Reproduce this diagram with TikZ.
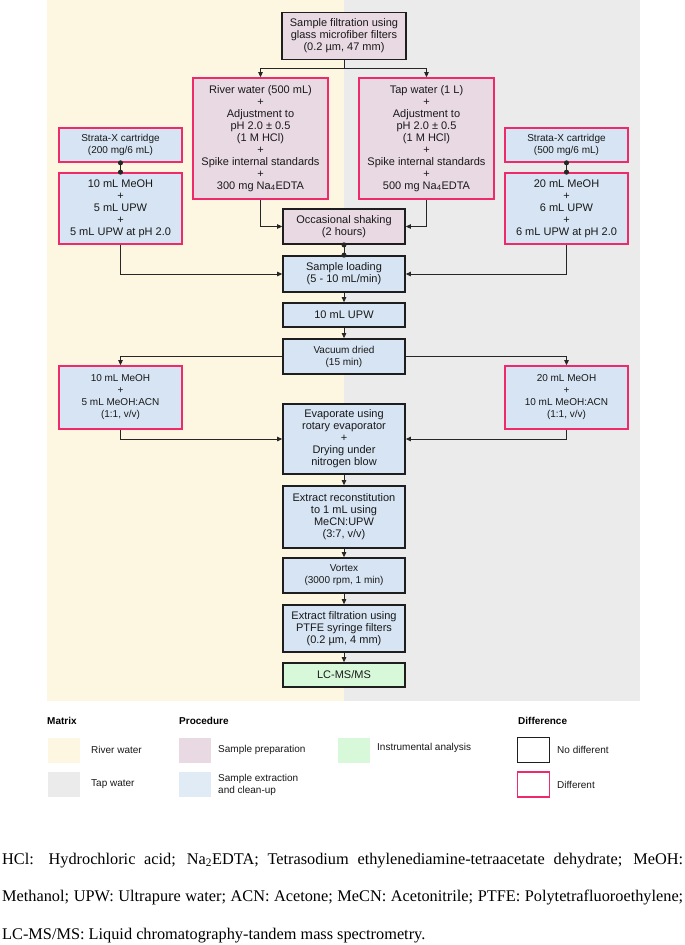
\documentclass[tikz,border=0pt]{standalone}
\usepackage{fontspec}
\setmainfont{Liberation Sans}
\newfontfamily\notefont{Liberation Serif}
\usetikzlibrary{arrows.meta}
\definecolor{bgY}{HTML}{FDF6E1}
\definecolor{bgG}{HTML}{EBEBEB}
\definecolor{prepC}{HTML}{E9D9E3}
\definecolor{extC}{HTML}{D6E4F3}
\definecolor{instC}{HTML}{D7F9D9}
\definecolor{pinkB}{HTML}{EE2A6B}
\definecolor{darkB}{HTML}{1E1E1E}
\definecolor{lineC}{HTML}{262626}
\tikzset{
  mainfont/.style={font=\fontsize{11}{12}\selectfont},
  smallfont/.style={font=\fontsize{10}{12}\selectfont},
  boxbase/.style={align=center, inner sep=0pt, line width=1.7pt, text=black!90},
  kbox/.style={boxbase, draw=darkB},
  pbox/.style={boxbase, draw=pinkB},
  prep/.style={fill=prepC},
  ext/.style={fill=extC},
  inst/.style={fill=instC},
  colw/.style={minimum width=122},
  sidew/.style={minimum width=123},
  arr/.style={draw=lineC, line width=1pt, -{Triangle[length=5pt,width=4.5pt]}},
  dotc/.style={draw=lineC, line width=1pt, {Circle[length=5pt]}-{Circle[length=5pt]}, shorten <=-2.5pt, shorten >=-2.5pt},
  swatch/.style={inner sep=0pt, minimum width=32, minimum height=25},
  legtxt/.style={font=\fontsize{10}{12}\selectfont, anchor=west, align=left, inner sep=0pt, text=black!90},
  headtxt/.style={font=\fontsize{10}{12}\selectfont\bfseries, anchor=west, inner sep=0pt},
  notetxt/.style={font=\notefont\fontsize{16.3}{18}\selectfont, anchor=base west, inner sep=0pt}
}
\begin{document}
\begin{tikzpicture}[x=1pt,y=-1pt]
\useasboundingbox (0,0) rectangle (685,945);
\fill[white] (0,0) rectangle (685,945);
\fill[bgY] (47,0) rectangle (344,701);
\fill[bgG] (344,0) rectangle (640,701);

% main column
\node[kbox,prep,mainfont,minimum width=124,minimum height=47] (filt) at (344,36) {Sample filtration using\\glass microfiber filters\\(0.2 µm, 47 mm)};
\node[pbox,prep,mainfont,minimum width=135,minimum height=121] (river) at (260.5,138.5) {River water (500 mL)\\+\\Adjustment to\\pH 2.0 ± 0.5\\(1 M HCl)\\+\\Spike internal standards\\+\\300 mg Na\textsubscript{4}EDTA};
\node[pbox,prep,mainfont,minimum width=135,minimum height=121] (tap) at (426.5,138.5) {Tap water (1 L)\\+\\Adjustment to\\pH 2.0 ± 0.5\\(1 M HCl)\\+\\Spike internal standards\\+\\500 mg Na\textsubscript{4}EDTA};
\node[kbox,prep,mainfont,colw,minimum height=35] (shake) at (344,226.5) {Occasional shaking\\(2 hours)};
\node[kbox,ext,mainfont,colw,minimum height=36] (load) at (344,274) {Sample loading\\(5 - 10 mL/min)};
\node[kbox,ext,mainfont,colw,minimum height=24] (upw) at (344,315) {10 mL UPW};
\node[kbox,ext,smallfont,colw,minimum height=35] (vac) at (344,356.5) {Vacuum dried\\(15 min)};
\node[kbox,ext,mainfont,colw,minimum height=70] (evap) at (344,439) {Evaporate using\\rotary evaporator\\+\\Drying under\\nitrogen blow};
\node[kbox,ext,mainfont,colw,minimum height=62] (recon) at (344,517) {Extract reconstitution\\to 1 mL using\\MeCN:UPW\\(3:7, v/v)};
\node[kbox,ext,smallfont,colw,minimum height=35] (vortex) at (344,575.5) {Vortex\\(3000 rpm, 1 min)};
\node[kbox,ext,mainfont,colw,minimum height=47] (xfilt) at (344,628.5) {Extract filtration using\\PTFE syringe filters\\(0.2 µm, 4 mm)};
\node[kbox,inst,mainfont,colw,minimum height=24] (lcms) at (344,675) {LC-MS/MS};

% side boxes
\node[pbox,ext,smallfont,sidew,minimum height=34] (strataL) at (120.5,145) {Strata-X cartridge\\(200 mg/6 mL)};
\node[pbox,ext,mainfont,sidew,minimum height=71] (condL) at (120.5,208.5) {10 mL MeOH\\+\\5 mL UPW\\+\\5 mL UPW at pH 2.0};
\node[pbox,ext,smallfont,sidew,minimum height=34] (strataR) at (566.5,145) {Strata-X cartridge\\(500 mg/6 mL)};
\node[pbox,ext,mainfont,sidew,minimum height=71] (condR) at (566.5,208.5) {20 mL MeOH\\+\\6 mL UPW\\+\\6 mL UPW at pH 2.0};
\node[pbox,ext,smallfont,sidew,minimum height=63] (eluL) at (120.5,397.5) {10 mL MeOH\\+\\5 mL MeOH:ACN\\(1:1, v/v)};
\node[pbox,ext,smallfont,sidew,minimum height=63] (eluR) at (566.5,397.5) {20 mL MeOH\\+\\10 mL MeOH:ACN\\(1:1, v/v)};

% connectors
\draw[arr] (filt.south) -- ++(0,8) -| (river.north);
\draw[arr] (filt.south) -- ++(0,8) -| (tap.north);
\draw[arr] (river.south) |- (shake.west);
\draw[arr] (tap.south) |- (shake.east);
\draw[dotc] (shake.south) -- (load.north);
\draw[dotc] (strataL.south) -- (condL.north);
\draw[dotc] (strataR.south) -- (condR.north);
\draw[arr] (condL.south) |- (load.west);
\draw[arr] (condR.south) |- (load.east);
\draw[arr] (load.south) -- (upw.north);
\draw[arr] (upw.south) -- (vac.north);
\draw[arr] (vac.west) -| (eluL.north);
\draw[arr] (vac.east) -| (eluR.north);
\draw[arr] (eluL.south) |- (evap.west);
\draw[arr] (eluR.south) |- (evap.east);
\draw[arr] (evap.south) -- (recon.north);
\draw[arr] (recon.south) -- (vortex.north);
\draw[arr] (vortex.south) -- (xfilt.north);
\draw[arr] (xfilt.south) -- (lcms.north);

% legend
\node[headtxt] (hM) at (47,721) {Matrix};
\node[headtxt] (hP) at (179,721) {Procedure};
\node[headtxt] (hD) at (518,721) {Difference};
\node[swatch,fill=bgY] (swR) at (63.5,750) {};
\node[legtxt] (lR) at (91,750) {River water};
\node[swatch,fill=bgG] (swT) at (63.5,784.5) {};
\node[legtxt] (lT) at (91,784.5) {Tap water};
\node[swatch,fill=prepC] (swP) at (195,750) {};
\node[legtxt] (lP) at (218,750) {Sample preparation};
\node[swatch,fill=extC!75!white] (swE) at (195,784.5) {};
\node[legtxt] (lE) at (218,784.5) {Sample extraction\\and clean-up};
\node[swatch,fill=instC] (swI) at (353.5,750) {};
\node[legtxt] (lI) at (377,748) {Instrumental analysis};
\node[swatch,draw=darkB,line width=1.7pt,fill=white] (swK) at (533.5,750) {};
\node[legtxt] (lK) at (557,750) {No different};
\node[swatch,draw=pinkB,line width=1.7pt,fill=white] (swD) at (533.5,784.5) {};
\node[legtxt] (lD) at (557,784.5) {Different};

% footnote
\node[notetxt] (n1) at (2,864) {\makebox[681pt][s]{HCl: Hydrochloric acid; Na\textsubscript{2}EDTA; Tetrasodium ethylenediamine-tetraacetate dehydrate; MeOH:}};
\node[notetxt] (n2) at (2,901.5) {\makebox[681pt][s]{Methanol; UPW: Ultrapure water; ACN: Acetone; MeCN: Acetonitrile; PTFE: Polytetrafluoroethylene;}};
\node[notetxt] (n3) at (2,939) {LC-MS/MS: Liquid chromatography-tandem mass spectrometry.};
\end{tikzpicture}
\end{document}
